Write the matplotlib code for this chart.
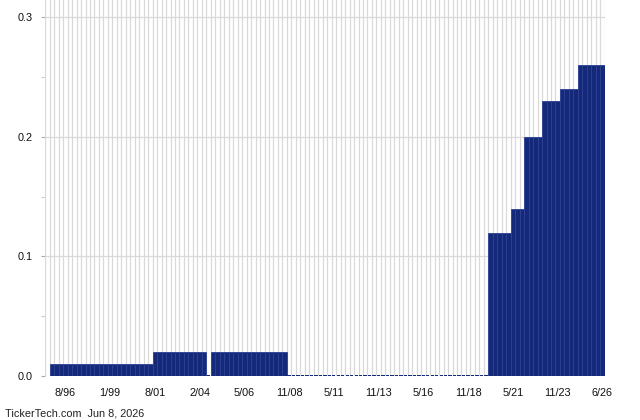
import matplotlib
matplotlib.use("Agg")
import matplotlib.pyplot as plt
from matplotlib.ticker import MultipleLocator

# Dividend per period (quarterly bars), left to right
run_values = [0.01, 0.02, 0.0, 0.02, 0.0, 0.12, 0.14, 0.20, 0.23, 0.24, 0.26]
run_lengths = [23, 12, 1, 17, 45, 5, 3, 4, 4, 4, 6]
tick_labels = ["8/96", "1/99", "8/01", "2/04", "5/06", "11/08", "5/11",
               "11/13", "5/16", "11/18", "5/21", "11/23", "6/26"]
footer = "TickerTech.com  Jun 8, 2026"

values = []
for v, n in zip(run_values, run_lengths):
    values += [v] * n
n_bars = len(values)

plt.rcParams['font.family'] = ['Liberation Sans', 'DejaVu Sans']
fig = plt.figure(figsize=(6.4, 4.2), dpi=100)
ax = fig.add_axes([45/640, 44/420, (604.7-45)/640, 376/420])

bar_face = '#15297a'
bar_edge = '#2c4092'
xs = list(range(n_bars))
pos_x = [x for x, v in zip(xs, values) if v > 0]
pos_v = [v for v in values if v > 0]
zero_x = [x for x, v in zip(xs, values) if v == 0]
ax.bar(pos_x, pos_v, width=1.0, align='edge', color=bar_face,
       edgecolor=bar_edge, linewidth=0.6, zorder=3)
ax.bar([x + 0.1 for x in zero_x], [0.0009] * len(zero_x), width=0.75,
       align='edge', color=bar_face, linewidth=0, zorder=3)

ax.set_xlim(-1.05, n_bars)
ax.set_ylim(0, 0.3146)

# vertical grid at bar boundaries
for b in range(-1, n_bars + 1):
    ax.axvline(b, color='#d9d9d9', linewidth=0.9, zorder=1)
ax.yaxis.set_major_locator(MultipleLocator(0.1))
ax.yaxis.set_minor_locator(MultipleLocator(0.05))
ax.grid(axis='y', which='major', color='#d9d9d9', linewidth=0.9, zorder=1)
ax.set_axisbelow(True)

ax.set_yticks([0.0, 0.1, 0.2, 0.3])
ax.set_yticklabels(["0.0", "0.1", "0.2", "0.3"])

tick_pos = [3.5 + 10 * i for i in range(len(tick_labels))]
ax.set_xticks(tick_pos)
ax.set_xticklabels(tick_labels)

ax.tick_params(axis='x', length=0, pad=9, labelsize=7.8, colors='#111111')
ax.tick_params(axis='y', which='major', length=3, width=0.8, color='#aaaaaa',
               pad=6, labelsize=7.8, labelcolor='#111111')
ax.tick_params(axis='y', which='minor', length=3, width=0.8, color='#cccccc')

for s in ax.spines.values():
    s.set_visible(False)

fig.text(5/640, 1 - 413/420, footer, fontsize=7.8, color='#222222',
         va='center', ha='left')

fig.savefig("out.png", dpi=100)
